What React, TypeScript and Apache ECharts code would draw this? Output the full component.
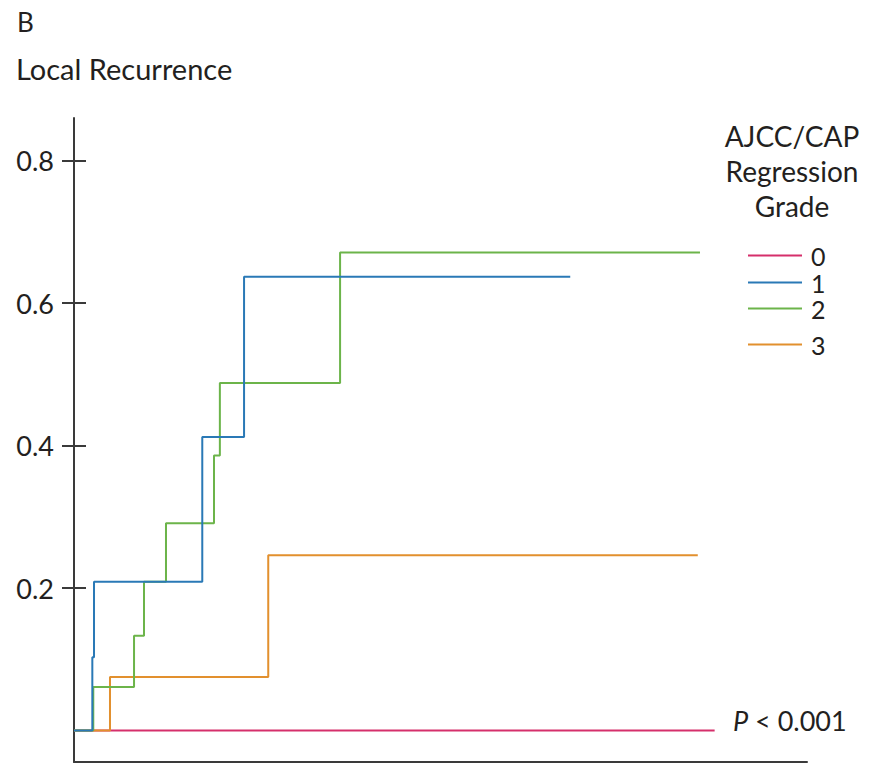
import React, { useEffect, useRef } from "react";
import * as echarts from "echarts";

// Time (arbitrary units, axis unlabeled) and cumulative incidence of local recurrence
const grade0Times = [0, 87.4];
const grade0Values = [0, 0];
const grade1Times = [0, 2.5, 2.73, 17.5, 23.2, 67.7];
const grade1Values = [0, 0.103, 0.209, 0.412, 0.637, 0.637];
const grade2Times = [0, 2.63, 8.19, 9.55, 12.55, 19.1, 19.9, 36.3, 85.4];
const grade2Values = [0, 0.061, 0.133, 0.209, 0.291, 0.386, 0.488, 0.671, 0.671];
const grade3Times = [0, 4.91, 26.5, 85.1];
const grade3Values = [0, 0.075, 0.246, 0.246];

const yTickValues = [0.2, 0.4, 0.6, 0.8];
const seriesNames = ["0", "1", "2", "3"];
const seriesColors = ["#d52f6b", "#2a79b6", "#6cb44a", "#e2902e"];

const FONT = "Lato";
const TEXT = "#231f20";

function pairs(t: number[], v: number[]) {
  return t.map((x, i) => [x, v[i]]);
}

export default function App() {
  const ref = useRef<HTMLDivElement>(null);
  useEffect(() => {
    if (!ref.current) return;
    const chart = echarts.init(ref.current, undefined, { renderer: "svg" });
    const data = [
      pairs(grade0Times, grade0Values),
      pairs(grade1Times, grade1Values),
      pairs(grade2Times, grade2Values),
      pairs(grade3Times, grade3Values),
    ];
    // draw order: 0 (bottom), 3, 2, 1 (top)
    const order = [0, 3, 2, 1];
    const series = order.map((i) => ({
      name: seriesNames[i],
      type: "line",
      step: "end",
      data: data[i],
      symbol: "none",
      lineStyle: { color: seriesColors[i], width: 2 },
      itemStyle: { color: seriesColors[i] },
      z: 2 + order.indexOf(i),
    }));
    const legendTops = [254, 281, 307, 343];
    const legends = seriesNames.map((n, i) => ({
      data: [n],
      left: 748,
      top: legendTops[i] - 11,
      padding: 0,
      icon: "rect",
      itemWidth: 54,
      itemHeight: 2,
      selectedMode: false,
      textStyle: {
        fontFamily: FONT,
        fontSize: 25,
        color: TEXT,
        lineHeight: 22,
        padding: [0, 0, 0, 4],
      },
    }));
    const yMin = -0.0442;
    const yMax = 0.86;
    chart.setOption({
      animation: false,
      backgroundColor: "#ffffff",
      grid: { left: 74, top: 118, right: 71, bottom: 2, containLabel: false },
      legend: legends,
      xAxis: {
        type: "value",
        min: 0,
        max: 100,
        axisLine: { show: true, onZero: false, lineStyle: { color: "#3a3a3a", width: 2 } },
        axisTick: { show: false },
        axisLabel: { show: false },
        splitLine: { show: false },
      },
      yAxis: [
        {
          type: "value",
          min: yMin,
          max: yMax,
          axisLine: { show: true, onZero: false, lineStyle: { color: "#3a3a3a", width: 2 } },
          axisTick: {
            show: true,
            length: 12,
            inside: false,
            customValues: yTickValues,
            lineStyle: { color: "#3a3a3a", width: 2 },
          },
          axisLabel: {
            show: true,
            customValues: yTickValues,
            margin: 20,
            fontFamily: FONT,
            fontSize: 27,
            color: TEXT,
            formatter: (v: number) => v.toFixed(1),
          },
          splitLine: { show: false },
        },
        {
          type: "value",
          min: yMin,
          max: yMax,
          position: "left",
          axisLine: { show: false },
          axisTick: {
            show: true,
            length: 12,
            inside: true,
            customValues: yTickValues,
            lineStyle: { color: "#3a3a3a", width: 2 },
          },
          axisLabel: { show: false },
          splitLine: { show: false },
        },
      ],
      graphic: [
        {
          type: "text",
          left: 17,
          top: 9,
          style: { text: "B", fontFamily: FONT, fontSize: 26, fill: TEXT },
        },
        {
          type: "text",
          left: 16,
          top: 54,
          style: { text: "Local Recurrence", fontFamily: FONT, fontSize: 29, fill: TEXT },
        },
        {
          type: "text",
          x: 792,
          y: 118,
          style: {
            text: "AJCC/CAP\nRegression\nGrade",
            fontFamily: FONT,
            fontSize: 28,
            lineHeight: 35,
            fill: TEXT,
            align: "center",
            verticalAlign: "top",
          },
        },
        {
          type: "text",
          x: 733,
          y: 720,
          style: {
            text: "{i|P}{n| < 0.001}",
            fill: TEXT,
            verticalAlign: "middle",
            rich: {
              i: { fontFamily: FONT, fontSize: 27, fontStyle: "italic", fill: TEXT },
              n: { fontFamily: FONT, fontSize: 27, fill: TEXT },
            },
          },
        },
      ],
      series,
    });
    return () => chart.dispose();
  }, []);
  return (
    <div
      ref={ref}
      style={{ position: "fixed", left: 0, top: 0, width: 878, height: 764, background: "#fff" }}
    />
  );
}
